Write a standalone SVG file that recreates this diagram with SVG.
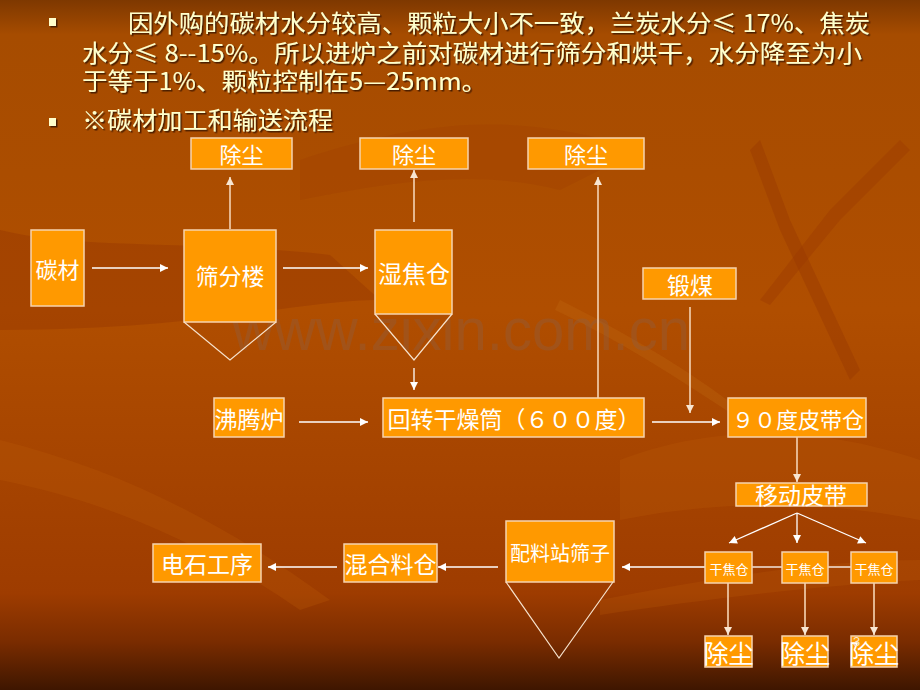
<svg xmlns="http://www.w3.org/2000/svg" width="920" height="690" viewBox="0 0 920 690">
<defs>
<linearGradient id="bg" x1="0" y1="0" x2="0" y2="1">
<stop offset="0" stop-color="#7E3800"/>
<stop offset="0.05" stop-color="#A64C00"/>
<stop offset="0.45" stop-color="#B04E00"/>
<stop offset="0.86" stop-color="#9E3C00"/>
<stop offset="0.93" stop-color="#7A2C00"/>
<stop offset="1" stop-color="#3E1600"/>
</linearGradient>
<filter id="shadow" x="-5%" y="-30%" width="110%" height="160%">
<feDropShadow dx="1.5" dy="1.5" stdDeviation="0.3" flood-color="#4A1E00" flood-opacity="1"/>
</filter>
<marker id="ah" viewBox="0 0 10 10" refX="10" refY="5" markerWidth="9" markerHeight="8" markerUnits="userSpaceOnUse" orient="auto">
<path d="M0,0 L10,5 L0,10 z" fill="#FFFFFF"/>
</marker>
<marker id="ahs" viewBox="0 0 10 10" refX="10" refY="5" markerWidth="9" markerHeight="8" markerUnits="userSpaceOnUse" orient="auto">
<path d="M0,0 L10,5 L0,10 z" fill="#F8E6D2"/>
</marker>
</defs>
<style>
.box{fill:#FF9900;stroke:#F6D3AE;stroke-width:1.5}
.hop{fill:none;stroke:#F6E2CC;stroke-width:1.2}
.t{font-family:"Noto Sans CJK SC","Noto Sans",sans-serif;fill:#FFFFFF;text-anchor:middle;dominant-baseline:central}
.c{fill:none;stroke:#FFFFFF;stroke-width:1.3}
.cs{fill:none;stroke:#EBC4A0;stroke-width:1.8}
.hd{font-family:"Noto Sans CJK SC","Noto Sans",sans-serif;font-size:24px;fill:#FFFFCC}
</style>
<rect width="920" height="690" fill="url(#bg)"/>
<g id="backdrop">
<path d="M0,230 C80,250 200,240 330,255 L380,300 C300,300 200,330 0,330 z" fill="#9A3A00" opacity="0.5"/>
<path d="M300,160 C420,120 520,110 640,150 L560,190 C480,170 400,180 300,200 z" fill="#A44400" opacity="0.5"/>
<path d="M620,460 C700,430 800,420 920,460 L920,520 C820,500 720,500 620,520 z" fill="#BA5A08" opacity="0.3"/>
<path d="M0,440 C120,470 220,520 330,600 L300,610 C200,540 100,500 0,480 z" fill="#BA5A08" opacity="0.3"/>
<path d="M760,140 L790,220 L860,370 L850,380 L780,230 L750,150 z" fill="#9A3A00" opacity="0.45"/>
<path d="M900,140 L830,210 L760,300 L770,305 L840,220 L910,150 z" fill="#9A3A00" opacity="0.4"/>
<path d="M560,300 C620,330 690,370 740,410 L735,416 C680,380 620,340 555,310 z" fill="#C06A10" opacity="0.3"/>
<path d="M600,600 C700,580 820,560 920,560 L920,580 C820,585 700,600 600,615 z" fill="#BA5A08" opacity="0.25"/>
</g>
<text x="232" y="350" font-family="Liberation Sans, Arial, sans-serif" font-size="60" fill="#8C6048" opacity="0.35" textLength="458" lengthAdjust="spacingAndGlyphs">www.zixin.com.cn</text>
<g id="heading" filter="url(#shadow)">
<rect x="49" y="18" width="7" height="8" fill="#FFFFCC"/>
<rect x="49" y="118" width="7" height="8" fill="#FFFFCC"/>
<text class="hd" x="128" y="32" textLength="742" lengthAdjust="spacingAndGlyphs">因外购的碳材水分较高、颗粒大小不一致，兰炭水分≤ 17%、焦炭</text>
<text class="hd" x="82" y="62" textLength="780" lengthAdjust="spacingAndGlyphs">水分≤ 8--15%。所以进炉之前对碳材进行筛分和烘干，水分降至为小</text>
<text class="hd" x="82" y="90" textLength="405" lengthAdjust="spacingAndGlyphs">于等于1%、颗粒控制在5—25mm。</text>
<text class="hd" x="82" y="129" textLength="251" lengthAdjust="spacingAndGlyphs">※碳材加工和输送流程</text>
</g>
<g id="connectors">
<line class="c" x1="92" y1="268" x2="168" y2="268" marker-end="url(#ah)"/>
<line class="c" x1="283" y1="268" x2="368" y2="268" marker-end="url(#ah)"/>
<line class="cs" x1="230" y1="229" x2="230" y2="177" marker-end="url(#ahs)"/>
<line class="cs" x1="414" y1="222" x2="414" y2="170" marker-end="url(#ahs)"/>
<line class="c" x1="414" y1="368" x2="414" y2="390" marker-end="url(#ah)"/>
<line class="c" x1="299" y1="422" x2="368" y2="422" marker-end="url(#ah)"/>
<line class="cs" x1="598" y1="398" x2="598" y2="177" marker-end="url(#ahs)"/>
<line class="cs" x1="690" y1="307" x2="690" y2="413" marker-end="url(#ahs)"/>
<line class="c" x1="652" y1="422" x2="720" y2="422" marker-end="url(#ah)"/>
<line class="cs" x1="797" y1="437" x2="797" y2="482" marker-end="url(#ahs)"/>
<line class="c" x1="797" y1="513" x2="729" y2="543" marker-end="url(#ah)"/>
<line class="c" x1="797" y1="513" x2="797" y2="543" marker-end="url(#ah)"/>
<line class="c" x1="797" y1="513" x2="866" y2="543" marker-end="url(#ah)"/>
<line class="c" x1="705" y1="567" x2="622" y2="567" marker-end="url(#ah)"/>
<line class="c" x1="752" y1="567" x2="782" y2="567"/>
<line class="c" x1="828" y1="567" x2="851" y2="567"/>
<line class="c" x1="498" y1="567" x2="438" y2="567" marker-end="url(#ah)"/>
<line class="c" x1="337" y1="567" x2="268" y2="567" marker-end="url(#ah)"/>
<line class="cs" x1="728" y1="583" x2="728" y2="635" marker-end="url(#ahs)"/>
<line class="cs" x1="805" y1="583" x2="805" y2="635" marker-end="url(#ahs)"/>
<line class="cs" x1="874" y1="583" x2="874" y2="635" marker-end="url(#ahs)"/>
</g>
<g id="n-chuchen1"><rect class="box" x="191" y="138" width="101" height="31"/><text class="t" x="241.5" y="153" font-size="22">除尘</text></g>
<g id="n-chuchen2"><rect class="box" x="360" y="138" width="108" height="31"/><text class="t" x="414" y="153" font-size="22">除尘</text></g>
<g id="n-chuchen3"><rect class="box" x="528" y="138" width="116" height="31"/><text class="t" x="586" y="153" font-size="22">除尘</text></g>
<g id="n-tancai"><rect class="box" x="31" y="230" width="53" height="76"/><text class="t" x="57.5" y="268" font-size="22">碳材</text></g>
<g id="n-shaifenlou"><rect class="box" x="184" y="230" width="92" height="92"/><path class="hop" d="M184,322 L230,360 L276,322"/><text class="t" x="230" y="275" font-size="23">筛分楼</text></g>
<g id="n-shijiaocang"><rect class="box" x="375" y="230" width="77" height="84"/><path class="hop" d="M375,314 L414,360 L452,314"/><text class="t" x="414" y="272" font-size="24">湿焦仓</text></g>
<g id="n-duanmei"><rect class="box" x="643" y="268" width="93" height="31"/><text class="t" x="690" y="284" font-size="23">锻煤</text></g>
<g id="n-feitenglu"><rect class="box" x="214" y="398" width="70" height="39"/><text class="t" x="249" y="418" font-size="23">沸腾炉</text></g>
<g id="n-huizhuan"><rect class="box" x="383" y="398" width="261" height="39"/><text class="t" x="514" y="418" font-size="23">回转干燥筒（６００度）</text></g>
<g id="n-90du"><rect class="box" x="728" y="398" width="138" height="39"/><text class="t" x="798" y="418" font-size="22">９０度皮带仓</text></g>
<g id="n-yidong"><rect class="box" x="736" y="483" width="131" height="23"/><text class="t" x="801" y="494" font-size="23">移动皮带</text></g>
<g id="n-ganjiao1"><rect class="box" x="705" y="552" width="47" height="31"/><text class="t" x="729" y="568" font-size="13">干焦仓</text></g>
<g id="n-ganjiao2"><rect class="box" x="782" y="552" width="46" height="31"/><text class="t" x="805" y="568" font-size="13">干焦仓</text></g>
<g id="n-ganjiao3"><rect class="box" x="851" y="552" width="46" height="31"/><text class="t" x="874" y="568" font-size="13">干焦仓</text></g>
<g id="n-peiliao"><rect class="box" x="506" y="521" width="108" height="61"/><path class="hop" d="M506,582 L559,658 L613,582"/><text class="t" x="560" y="552" font-size="20">配料站筛子</text></g>
<g id="n-hunhe"><rect class="box" x="344" y="544" width="93" height="38"/><text class="t" x="390.5" y="563" font-size="23">混合料仓</text></g>
<g id="n-dianshi"><rect class="box" x="153" y="544" width="108" height="38"/><text class="t" x="207" y="563" font-size="23">电石工序</text></g>
<g id="n-chuchen4"><rect class="box" x="705" y="636" width="47" height="31"/><text class="t" x="728.5" y="652" font-size="25">除尘</text></g>
<g id="n-chuchen5"><rect class="box" x="782" y="636" width="46" height="31"/><text class="t" x="805" y="652" font-size="25">除尘</text></g>
<g id="n-chuchen6"><rect class="box" x="851" y="636" width="46" height="31"/><text class="t" x="874" y="652" font-size="25">除尘</text></g>
<text x="853" y="646" font-family="Liberation Sans, Arial, sans-serif" font-size="13" fill="#F8E6D2">3</text>
</svg>
